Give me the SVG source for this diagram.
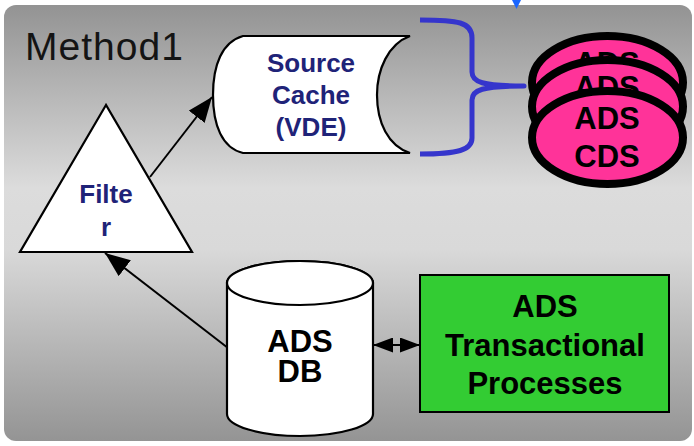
<svg xmlns="http://www.w3.org/2000/svg" width="694" height="446" viewBox="0 0 694 446">
  <defs>
    <linearGradient id="bgGrad" x1="0" y1="0" x2="0" y2="1">
      <stop offset="0" stop-color="#939393"/>
      <stop offset="0.42" stop-color="#dcdcdc"/>
      <stop offset="0.56" stop-color="#d9d9d9"/>
      <stop offset="1" stop-color="#949494"/>
    </linearGradient>
    <marker id="arrow" viewBox="0 0 25 20" refX="25" refY="10" markerWidth="25" markerHeight="20" markerUnits="userSpaceOnUse" orient="auto-start-reverse">
      <path d="M0,0 L25,10 L0,20 Z" fill="#000"/>
    </marker>
    <marker id="arrowSm" viewBox="0 0 20 15" refX="20" refY="7.5" markerWidth="20" markerHeight="15" markerUnits="userSpaceOnUse" orient="auto-start-reverse">
      <path d="M0,0 L20,7.5 L0,15 Z" fill="#000"/>
    </marker>
  </defs>
  <style>
    .node-shape { fill: #ffffff; stroke: #000000; stroke-width: 2.2; }
    .navy { font-family: "Liberation Sans", Arial, sans-serif; font-weight: bold; font-size: 26px; fill: #1f2378; text-anchor: middle; }
    .blk { font-family: "Liberation Sans", Arial, sans-serif; font-weight: bold; font-size: 31px; fill: #000000; text-anchor: middle; }
    .pink { fill: #ff3399; stroke: #000000; stroke-width: 8; }
    .conn { stroke: #000000; stroke-width: 2; fill: none; }
  </style>

  <rect x="4" y="5" width="688" height="436" rx="12" ry="12" fill="url(#bgGrad)"/>
  <text x="25" y="60" font-family="Liberation Sans, Arial, sans-serif" font-size="39" fill="#141414" textLength="158" lengthAdjust="spacing">Method1</text>

  <g id="connectors">
    <line class="conn" x1="150" y1="177" x2="212" y2="97" marker-end="url(#arrow)"/>
    <line class="conn" x1="228" y1="348" x2="105" y2="253" marker-end="url(#arrow)"/>
    <line class="conn" x1="373" y1="345" x2="420" y2="345" marker-start="url(#arrowSm)" marker-end="url(#arrowSm)"/>
    <path d="M420,20 C458,20 472,22 472,38 L472,72 C472,82 482,86 524,86 C482,86 472,90 472,100 L472,138 C472,150 458,154 420,154" fill="none" stroke="#3535cc" stroke-width="5" stroke-linejoin="round"/>
    <polygon points="512,0 521,0 516.5,9" fill="#1a66ff"/>
  </g>

  <g id="source-cache">
    <path class="node-shape" d="M243,36 L410,36 C388,44 377,70 377,95 C377,122 388,146 410,153 L243,153 C222,148 213,125 213,95 C213,65 222,42 243,36 Z"/>
    <text class="navy" x="311" y="72">Source</text>
    <text class="navy" x="311" y="104">Cache</text>
    <text class="navy" x="311" y="136">(VDE)</text>
  </g>

  <g id="filter">
    <polygon class="node-shape" points="106,105 20,252 192,252"/>
    <text class="navy" x="106" y="203">Filte</text>
    <text class="navy" x="106" y="236">r</text>
  </g>

  <g id="ads-db">
    <path class="node-shape" d="M227,283 L227,414 A73,22 0 0 0 373,414 L373,283 A73,22 0 0 0 227,283 Z"/>
    <ellipse class="node-shape" cx="300" cy="283" rx="73" ry="22"/>
    <text class="blk" x="300" y="352">ADS</text>
    <text class="blk" x="300" y="382">DB</text>
  </g>

  <g id="ads-transactional">
    <rect x="420" y="275" width="249" height="137" fill="#33cc33" stroke="#000" stroke-width="2"/>
    <text class="blk" x="545" y="317">ADS</text>
    <text class="blk" x="545" y="356">Transactional</text>
    <text class="blk" x="545" y="394">Processes</text>
  </g>

  <g id="ads-cds-3">
    <ellipse class="pink" cx="607.5" cy="82.5" rx="75.5" ry="46.5"/>
    <text class="blk" x="607" y="74" font-size="30">ADS</text>
  </g>
  <g id="ads-cds-2">
    <ellipse class="pink" cx="607.5" cy="106.5" rx="75.5" ry="46.5"/>
    <text class="blk" x="607" y="98" font-size="30">ADS</text>
  </g>
  <g id="ads-cds-1">
    <ellipse class="pink" cx="607.5" cy="137.5" rx="75.5" ry="46.5"/>
    <text class="blk" x="607" y="129" font-size="30">ADS</text>
    <text class="blk" x="607" y="167" font-size="30">CDS</text>
  </g>
</svg>
